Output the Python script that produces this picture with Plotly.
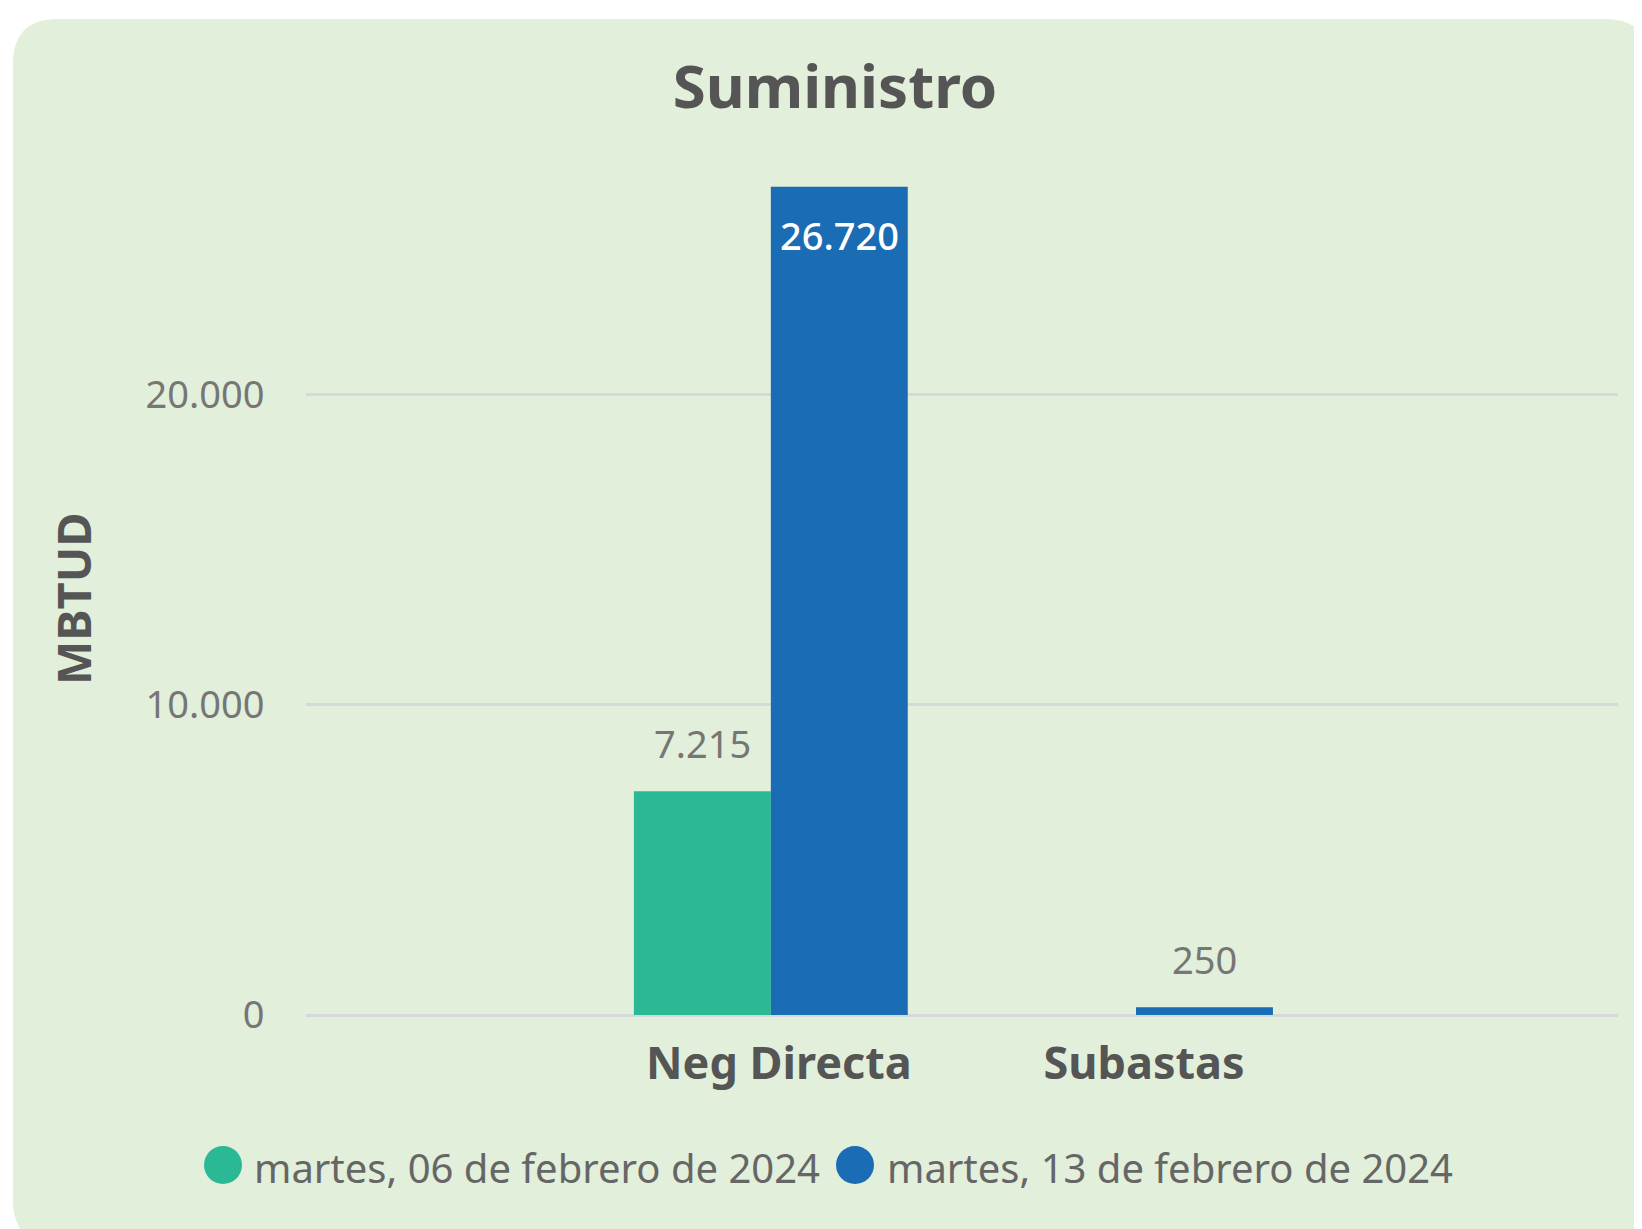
import plotly.graph_objects as go

categories = ["Neg Directa", "Subastas"]
series_names = ["martes, 06 de febrero de 2024", "martes, 13 de febrero de 2024"]
values_feb06 = [7215, None]
values_feb13 = [26720, 250]
colors = ["#2BB894", "#1A6CB4"]
y_ticks = [0, 10000, 20000]

OFF = 8  # page body margin
W, H = 1642, 1229
L, T = 306 - OFF, 160 - OFF
R = W - (1618 - OFF)
B = H - (1015 - OFF)
PW, PH = W - L - R, H - T - B
BARGAP = 0.25
XR = [-1.273, 2.32]
YR = [0, 27580]


def px(x):
    """page pixel x -> paper"""
    return (x - OFF - L) / PW


def py(y):
    """page pixel y -> paper"""
    return (H - B - (y - OFF)) / PH


def fmt(v):
    return f"{v:,}".replace(",", ".")


fig = go.Figure()
for name, vals, col in zip(series_names, [values_feb06, values_feb13], colors):
    fig.add_trace(go.Bar(x=categories, y=vals, name=name, marker=dict(color=col, line=dict(width=0)),
                         showlegend=False, hoverinfo="skip"))

# background rounded panel
x0, x1, y0, y1, r = 13, 1650, 19, 1245, 45
path = (f"M {px(x0)},{py(y0 + r)} Q {px(x0)},{py(y0)} {px(x0 + r)},{py(y0)} "
        f"L {px(x1 - r)},{py(y0)} Q {px(x1)},{py(y0)} {px(x1)},{py(y0 + r)} "
        f"L {px(x1)},{py(y1)} L {px(x0 + r)},{py(y1)} Q {px(x0)},{py(y1)} {px(x0)},{py(y1 - r)} Z")
shapes = [dict(type="path", xref="paper", yref="paper", path=path, fillcolor="#E2EFDA",
               line=dict(width=0), layer="below")]

annotations = []
offset = (1 - BARGAP) / 4
series_vals = [values_feb06, values_feb13]
for si, vals in enumerate(series_vals):
    dx = -offset if si == 0 else offset
    for ci, v in enumerate(vals):
        if v is None:
            continue
        if v > 20000:
            annotations.append(dict(x=ci + dx, y=v, xref="x", yref="y", text=fmt(v), showarrow=False,
                                    yanchor="middle", yshift=-48,
                                    font=dict(family="Noto Sans", size=38, color="white", weight=500)))
        else:
            annotations.append(dict(x=ci + dx, y=v, xref="x", yref="y", text=fmt(v), showarrow=False,
                                    yanchor="bottom", yshift=20,
                                    font=dict(family="Noto Sans", size=38, color="#767676")))

# y axis title
annotations.append(dict(x=px(73), y=py(599), xref="paper", yref="paper", text="<b>MBTUD</b>",
                        textangle=-90, showarrow=False, xanchor="center", yanchor="middle",
                        font=dict(family="Noto Sans", size=47, color="#555555")))

# manual legend
leg = [(223, 252), (855, 885)]
for (cx, tx), name, col in zip(leg, series_names, colors):
    shapes.append(dict(type="circle", xref="paper", yref="paper", xsizemode="pixel", ysizemode="pixel",
                       xanchor=px(cx), yanchor=py(1165), x0=-19, x1=19, y0=-19, y1=19,
                       fillcolor=col, line=dict(width=0)))
    annotations.append(dict(x=px(tx), y=py(1167), xref="paper", yref="paper", text=name, showarrow=False,
                            xanchor="left", yanchor="middle",
                            font=dict(family="Noto Sans", size=40, color="#666666")))

fig.update_layout(
    width=W, height=H,
    margin=dict(l=L, r=R, t=T, b=B, autoexpand=False),
    paper_bgcolor="white", plot_bgcolor="rgba(0,0,0,0)",
    separators=",.",
    barmode="group", bargap=BARGAP, bargroupgap=0,
    title=dict(text="<b>Suministro</b>", x=(835 - OFF) / W, xanchor="center", y=1 - (87 - OFF) / H,
               yanchor="middle", xref="container", yref="container",
               font=dict(family="Noto Sans", size=60, color="#555555")),
    xaxis=dict(type="category", range=XR, showgrid=False, zeroline=False, showline=False,
               ticks="outside", ticklen=9, tickcolor="rgba(0,0,0,0)", ticklabelshift=8,
               tickfont=dict(family="Noto Sans", size=45, color="#555555", weight="bold")),
    yaxis=dict(range=YR, tickvals=y_ticks, tickformat=",d", showgrid=True, gridcolor="#D6D9DB", gridwidth=3,
               zeroline=True, zerolinecolor="#D6D9DB", zerolinewidth=3, showline=False,
               ticks="outside", ticklen=33, tickcolor="rgba(0,0,0,0)",
               tickfont=dict(family="Noto Sans", size=38, color="#767676")),
    shapes=shapes, annotations=annotations,
    showlegend=False,
)

fig.write_html("out.html")
